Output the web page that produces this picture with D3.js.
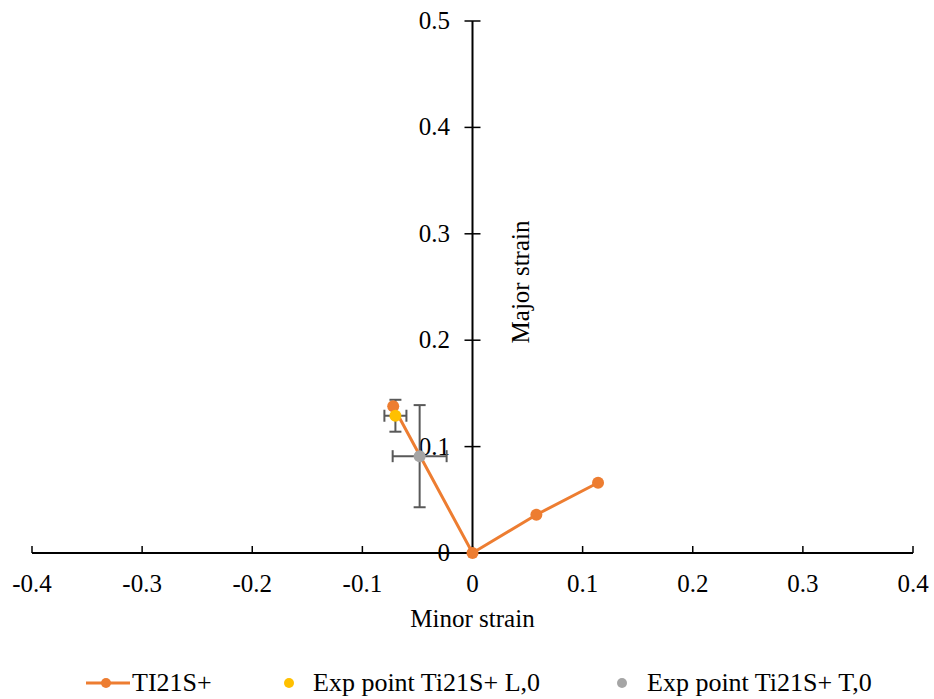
<!DOCTYPE html>
<html>
<head>
<meta charset="utf-8">
<script src="https://cdn.jsdelivr.net/npm/d3@7"></script>
<style>
  body { margin: 0; background: #fff; }
</style>
</head>
<body>
<svg id="chart" width="934" height="699"></svg>
<script>
// data
const simMinor = [-0.072, 0, 0.058, 0.114];
const simMajor = [0.138, 0, 0.036, 0.066];

const expL = { x: -0.070, y: 0.129, ex: 0.010, ey: 0.015 };
const expT = { x: -0.048, y: 0.091, ex: 0.0245, ey: 0.048 };

const xTicks = [-0.4, -0.3, -0.2, -0.1, 0, 0.1, 0.2, 0.3, 0.4];
const yTicks = [0, 0.1, 0.2, 0.3, 0.4, 0.5];

const legendNames = ["TI21S+", "Exp point Ti21S+ L,0", "Exp point Ti21S+ T,0"];
const colors = ["#ed7d31", "#ffc000", "#a5a5a5"];

const FONT = "'Liberation Serif'";
const svg = d3.select("#chart");

const x = d3.scaleLinear().domain([-0.4, 0.4]).range([32, 913]);
const y = d3.scaleLinear().domain([0, 0.5]).range([553, 21]);

function label(sel) {
  return sel.style("font-family", FONT).attr("fill", "#000");
}

// x axis (ticks point up)
svg.append("line")
  .attr("x1", x(-0.4)).attr("x2", x(0.4))
  .attr("y1", y(0)).attr("y2", y(0))
  .attr("stroke", "#000").attr("stroke-width", 2);
svg.selectAll("line.xt").data(xTicks).enter().append("line")
  .attr("class", "xt")
  .attr("x1", d => x(d)).attr("x2", d => x(d))
  .attr("y1", y(0)).attr("y2", y(0) - 7)
  .attr("stroke", "#000").attr("stroke-width", 1.5);
svg.selectAll("text.xl").data(xTicks).enter().append("text")
  .attr("class", "xl")
  .attr("x", d => x(d)).attr("y", 592)
  .attr("text-anchor", "middle")
  .style("font-size", "25px")
  .text(d => d === 0 ? "0" : d3.format(".1f")(d).replace("−", "-"))
  .call(label);

// y axis (ticks cross)
svg.append("line")
  .attr("x1", x(0)).attr("x2", x(0))
  .attr("y1", y(0)).attr("y2", y(0.5))
  .attr("stroke", "#000").attr("stroke-width", 2);
svg.selectAll("line.yt").data(yTicks).enter().append("line")
  .attr("class", "yt")
  .attr("x1", x(0) - 8).attr("x2", x(0) + 8)
  .attr("y1", d => y(d)).attr("y2", d => y(d))
  .attr("stroke", "#000").attr("stroke-width", 1.5);
svg.selectAll("text.yl").data(yTicks).enter().append("text")
  .attr("class", "yl")
  .attr("x", 450).attr("y", d => y(d) + 8)
  .attr("text-anchor", "end")
  .style("font-size", "25px")
  .text(d => d === 0 ? "0" : d3.format(".1f")(d))
  .call(label);

// axis titles
svg.append("text")
  .attr("x", x(0)).attr("y", 627)
  .attr("text-anchor", "middle")
  .style("font-size", "25px")
  .text("Minor strain")
  .call(label);
svg.append("text")
  .attr("transform", `translate(529,282) rotate(-90)`)
  .attr("text-anchor", "middle")
  .style("font-size", "25px")
  .text("Major strain")
  .call(label);

// error bars
function errorBars(p) {
  const g = svg.append("g").attr("stroke", "#595959").attr("stroke-width", 2);
  const cap = 6;
  g.append("line").attr("x1", x(p.x - p.ex)).attr("x2", x(p.x + p.ex))
    .attr("y1", y(p.y)).attr("y2", y(p.y));
  g.append("line").attr("x1", x(p.x)).attr("x2", x(p.x))
    .attr("y1", y(p.y - p.ey)).attr("y2", y(p.y + p.ey));
  [p.x - p.ex, p.x + p.ex].forEach(v => g.append("line")
    .attr("x1", x(v)).attr("x2", x(v))
    .attr("y1", y(p.y) - cap).attr("y2", y(p.y) + cap));
  [p.y - p.ey, p.y + p.ey].forEach(v => g.append("line")
    .attr("x1", x(p.x) - cap).attr("x2", x(p.x) + cap)
    .attr("y1", y(v)).attr("y2", y(v)));
}
errorBars(expT);
errorBars(expL);

// simulated FLC line
const pts = simMinor.map((d, i) => [d, simMajor[i]]);
svg.append("path")
  .datum(pts)
  .attr("fill", "none")
  .attr("stroke", colors[0])
  .attr("stroke-width", 3)
  .attr("d", d3.line().x(d => x(d[0])).y(d => y(d[1])));
svg.selectAll("circle.sim").data(pts).enter().append("circle")
  .attr("class", "sim")
  .attr("cx", d => x(d[0])).attr("cy", d => y(d[1]))
  .attr("r", 6).attr("fill", colors[0]);

// exp points
svg.append("circle").attr("cx", x(expT.x)).attr("cy", y(expT.y)).attr("r", 6).attr("fill", colors[2]);
svg.append("circle").attr("cx", x(expL.x)).attr("cy", y(expL.y)).attr("r", 6).attr("fill", colors[1]);

// legend
const ly = 683;
const leg = svg.append("g");
leg.append("line").attr("x1", 86).attr("x2", 130).attr("y1", ly).attr("y2", ly)
  .attr("stroke", colors[0]).attr("stroke-width", 3);
leg.append("circle").attr("cx", 106).attr("cy", ly).attr("r", 5).attr("fill", colors[0]);
leg.append("text").attr("x", 132).attr("y", ly + 8).style("font-size", "26px").text(legendNames[0]).call(label);
leg.append("circle").attr("cx", 289).attr("cy", ly).attr("r", 5).attr("fill", colors[1]);
leg.append("text").attr("x", 313).attr("y", ly + 8).style("font-size", "26px").text(legendNames[1]).call(label);
leg.append("circle").attr("cx", 622).attr("cy", ly).attr("r", 5).attr("fill", colors[2]);
leg.append("text").attr("x", 647).attr("y", ly + 8).style("font-size", "26px").text(legendNames[2]).call(label);
</script>
</body>
</html>
